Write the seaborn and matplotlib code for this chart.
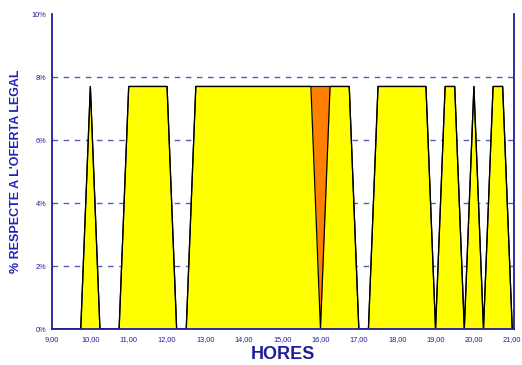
import matplotlib
matplotlib.use('Agg')
import matplotlib.pyplot as plt
from matplotlib.ticker import MultipleLocator, FuncFormatter
import numpy as np
import seaborn as sns

# hours of the day and % of the legal offer (stacked: yellow + orange)
hours = [9.0, 9.75, 10.0, 10.25, 10.75, 11.0, 12.0, 12.25, 12.5, 12.75,
         15.75, 16.0, 16.25, 16.75, 17.0, 17.25, 17.5, 18.75, 19.0, 19.25,
         19.5, 19.75, 20.0, 20.25, 20.5, 20.75, 21.0]
yellow = [0, 0, 7.7, 0, 0, 7.7, 7.7, 0, 0, 7.7,
          7.7, 0, 7.7, 7.7, 0, 0, 7.7, 7.7, 0, 7.7,
          7.7, 0, 7.7, 0, 7.7, 7.7, 0]
orange = [0, 0, 0, 0, 0, 0, 0, 0, 0, 0,
          0, 7.7, 0, 0, 0, 0, 0, 0, 0, 0,
          0, 0, 0, 0, 0, 0, 0]
y_ticks = [0, 2, 4, 6, 8, 10]

navy = '#1e1e9c'
sns.set_style('white')
plt.rcParams['font.family'] = ['Liberation Sans', 'DejaVu Sans']

fig = plt.figure(figsize=(5.22, 3.65), dpi=100)
ax = fig.add_axes([0.0996, 0.0986, 0.8854, 0.863])

y = np.array(yellow)
total = y + np.array(orange)
ax.fill_between(hours, 0, y, color='#ffff00', lw=0, zorder=2)
ax.fill_between(hours, y, total, color='#ff8000', lw=0, zorder=2)
# black outlines, kept under the spines
sns.lineplot(x=hours, y=yellow, ax=ax, color='black', lw=0.9,
             estimator=None, sort=False, zorder=2.3)
sns.lineplot(x=hours, y=total, ax=ax, color='black', lw=0.9,
             estimator=None, sort=False, zorder=2.3)

ax.set_xlim(9.0, 21.05)
ax.set_ylim(0, 10)
ax.set_yticks(y_ticks)
ax.yaxis.set_major_formatter(FuncFormatter(lambda v, p: f'{v:.0f}%'))
ax.xaxis.set_major_locator(MultipleLocator(1))
ax.xaxis.set_minor_locator(MultipleLocator(0.25))
ax.xaxis.set_major_formatter(FuncFormatter(lambda v, p: f'{v:.2f}'.replace('.', ',')))

ax.grid(axis='y', color='#5a5ab4', ls=(0, (4, 4)), lw=1)
ax.set_axisbelow(True)
gridlines = ax.get_ygridlines()
gridlines[0].set_visible(False)
gridlines[-1].set_visible(False)

ax.tick_params(axis='both', which='both', direction='out', colors=navy,
               labelsize=5.3, width=1, pad=1)
ax.tick_params(axis='x', which='both', length=4)
ax.tick_params(axis='y', length=3)

for side in ['left', 'bottom', 'right']:
    ax.spines[side].set_color(navy)
    ax.spines[side].set_linewidth(1.3)
ax.spines['top'].set_visible(False)

ax.set_xlabel('HORES', fontsize=13, fontweight='bold', color=navy, labelpad=2)
ax.set_ylabel("% RESPECTE A L'OFERTA LEGAL", fontsize=9, fontweight='bold',
              color='#2222b4', labelpad=7)

plt.savefig('out.png', dpi=100)
plt.close()
